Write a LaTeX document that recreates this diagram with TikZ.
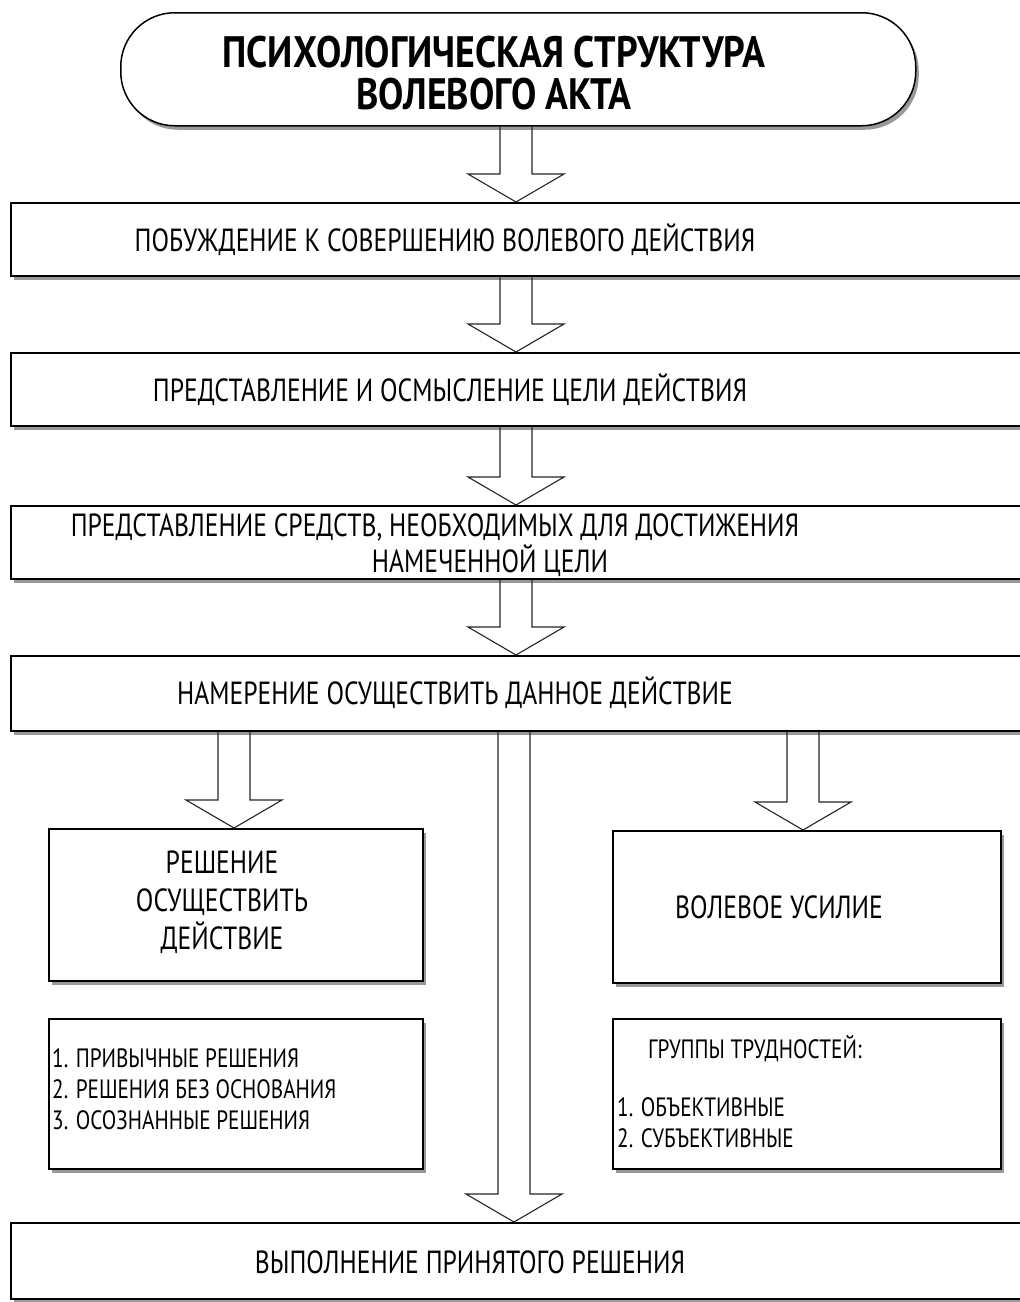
\documentclass[tikz,border=0pt]{standalone}
\usepackage{fontspec}
\setmainfont{PT Sans}[FakeStretch=0.8]
\newfontfamily\titlefont{PT Sans}[FakeStretch=0.86]
\usetikzlibrary{calc,shadows}
\newcommand{\blockarrow}[3]{%
  \draw[barrow] let \p1=(#2.south), \p2=(#3.north) in
  ({#1pt-16pt},\y1) -- ({#1pt-16pt},\y2+28pt) -- ({#1pt-48pt},\y2+28pt) -- (#1pt,\y2)
  -- ({#1pt+48pt},\y2+28pt) -- ({#1pt+16pt},\y2+28pt) -- ({#1pt+16pt},\y1);}
\begin{document}
\begin{tikzpicture}[x=1pt,y=-1pt,
  box/.style={draw=black, line width=1.5pt, fill=white, rectangle, inner sep=0pt, anchor=north west,
    general shadow={fill=black!40, shadow xshift=3pt, shadow yshift=-4pt}},
  titlebox/.style={box, rounded corners=54pt},
  barrow/.style={draw=black!85, line width=1.1pt, line join=miter},
  maintext/.style={font=\fontsize{32}{38}\selectfont, inner sep=0pt},
  bigtext/.style={font=\fontsize{32}{38}\selectfont, align=center, inner sep=0pt},
  listtext/.style={font=\fontsize{26.5}{31}\selectfont, align=left, inner sep=0pt, anchor=west},
  titletext/.style={font=\titlefont\fontsize{44}{42}\selectfont\bfseries, align=center, inner sep=0pt}]
\fill[white] (0,0) rectangle (1020,1302);
\useasboundingbox (0,0) rectangle (1020,1302);

% title
\node[titlebox, minimum width=795pt, minimum height=113pt] (title) at (120,12) {};
\node[titletext] (titleT) at (494,73) {ПСИХОЛОГИЧЕСКАЯ СТРУКТУРА\\ВОЛЕВОГО АКТА};

% main boxes
\node[box, minimum width=1010pt, minimum height=73pt] (b1) at (10,202) {};
\node[maintext] (b1T) at (445,240) {ПОБУЖДЕНИЕ К СОВЕРШЕНИЮ ВОЛЕВОГО ДЕЙСТВИЯ};

\node[box, minimum width=1010pt, minimum height=73pt] (b2) at (10,352) {};
\node[maintext] (b2T) at (450,390) {ПРЕДСТАВЛЕНИЕ И ОСМЫСЛЕНИЕ ЦЕЛИ ДЕЙСТВИЯ};

\node[box, minimum width=1010pt, minimum height=73pt] (b3) at (10,505) {};
\node[maintext] (b3Ta) at (435,527) {ПРЕДСТАВЛЕНИЕ СРЕДСТВ, НЕОБХОДИМЫХ ДЛЯ ДОСТИЖЕНИЯ};
\node[maintext] (b3Tb) at (490,561) {НАМЕЧЕННОЙ ЦЕЛИ};

\node[box, minimum width=1010pt, minimum height=75pt] (b4) at (10,655) {};
\node[maintext] (b4T) at (455,693) {НАМЕРЕНИЕ ОСУЩЕСТВИТЬ ДАННОЕ ДЕЙСТВИЕ};

% second level
\node[box, minimum width=374pt, minimum height=152pt] (dec) at (48,828) {};
\node[bigtext] (decT) at (222,902) {РЕШЕНИЕ\\ОСУЩЕСТВИТЬ\\ДЕЙСТВИЕ};

\node[box, minimum width=388pt, minimum height=152pt] (eff) at (612,830) {};
\node[maintext] (effT) at (779,907) {ВОЛЕВОЕ УСИЛИЕ};

\node[box, minimum width=374pt, minimum height=150pt] (l1) at (48,1018) {};
\node[listtext] (l1T) at (52,1089) {1. ПРИВЫЧНЫЕ РЕШЕНИЯ\\2. РЕШЕНИЯ БЕЗ ОСНОВАНИЯ\\3. ОСОЗНАННЫЕ РЕШЕНИЯ};

\node[box, minimum width=388pt, minimum height=150pt] (l2) at (612,1018) {};
\node[listtext] (l2Ta) at (648,1049) {ГРУППЫ ТРУДНОСТЕЙ:};
\node[listtext] (l2Tb) at (617,1123) {1. ОБЪЕКТИВНЫЕ\\2. СУБЪЕКТИВНЫЕ};

% final
\node[box, minimum width=1010pt, minimum height=76pt] (b5) at (10,1222) {};
\node[maintext] (b5T) at (470,1262) {ВЫПОЛНЕНИЕ ПРИНЯТОГО РЕШЕНИЯ};

% arrows
\blockarrow{516}{title}{b1}
\blockarrow{516}{b1}{b2}
\blockarrow{516}{b2}{b3}
\blockarrow{516}{b3}{b4}
\blockarrow{234}{b4}{dec}
\blockarrow{514}{b4}{b5}
\blockarrow{803}{b4}{eff}
\end{tikzpicture}
\end{document}
